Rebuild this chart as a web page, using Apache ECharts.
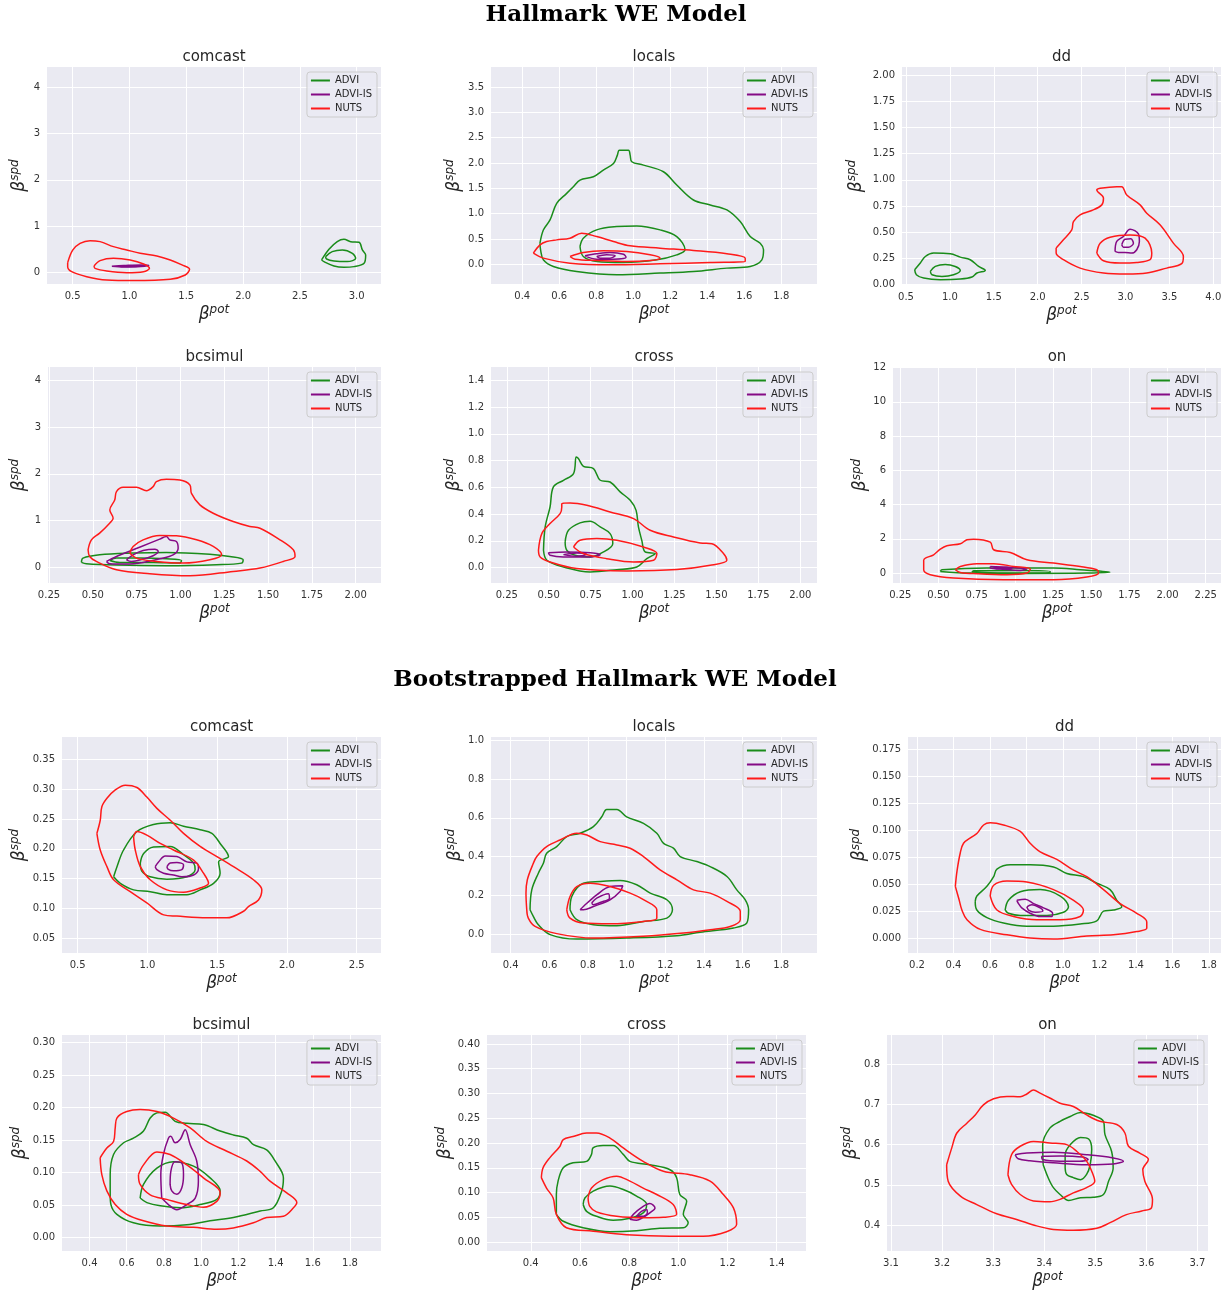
<!DOCTYPE html>
<html><head><meta charset="utf-8">
<script src="https://cdn.jsdelivr.net/npm/echarts@6/dist/echarts.min.js"></script>
<style>html,body{margin:0;padding:0;background:#fff}#c{width:1232px;height:1293px}</style>
</head><body><div id="c"></div>
<script>
const seriesNames = ['ADVI', 'ADVI-IS', 'NUTS'];
const seriesColors = ['#1a8c1a', '#850a85', '#ff1a1a'];
const sectionTitles = ['Hallmark WE Model', 'Bootstrapped Hallmark WE Model'];
const panelTitles = ['comcast', 'locals', 'dd', 'bcsimul', 'cross', 'on', 'comcast', 'locals', 'dd', 'bcsimul', 'cross', 'on'];

// tick labels
const xTicks1 = ['0.5', '1.0', '1.5', '2.0', '2.5', '3.0'];
const yTicks1 = ['0', '1', '2', '3', '4'];
const xTicks2 = ['0.4', '0.6', '0.8', '1.0', '1.2', '1.4', '1.6', '1.8'];
const yTicks2 = ['0.0', '0.5', '1.0', '1.5', '2.0', '2.5', '3.0', '3.5'];
const xTicks3 = ['0.5', '1.0', '1.5', '2.0', '2.5', '3.0', '3.5', '4.0'];
const yTicks3 = ['0.00', '0.25', '0.50', '0.75', '1.00', '1.25', '1.50', '1.75', '2.00'];
const xTicks4 = ['0.25', '0.50', '0.75', '1.00', '1.25', '1.50', '1.75', '2.00'];
const yTicks4 = ['0', '1', '2', '3', '4'];
const xTicks5 = ['0.25', '0.50', '0.75', '1.00', '1.25', '1.50', '1.75', '2.00'];
const yTicks5 = ['0.0', '0.2', '0.4', '0.6', '0.8', '1.0', '1.2', '1.4'];
const xTicks6 = ['0.25', '0.50', '0.75', '1.00', '1.25', '1.50', '1.75', '2.00', '2.25'];
const yTicks6 = ['0', '2', '4', '6', '8', '10', '12'];
const xTicks7 = ['0.5', '1.0', '1.5', '2.0', '2.5'];
const yTicks7 = ['0.05', '0.10', '0.15', '0.20', '0.25', '0.30', '0.35'];
const xTicks8 = ['0.4', '0.6', '0.8', '1.0', '1.2', '1.4', '1.6', '1.8'];
const yTicks8 = ['0.0', '0.2', '0.4', '0.6', '0.8', '1.0'];
const xTicks9 = ['0.2', '0.4', '0.6', '0.8', '1.0', '1.2', '1.4', '1.6', '1.8'];
const yTicks9 = ['0.000', '0.025', '0.050', '0.075', '0.100', '0.125', '0.150', '0.175'];
const xTicks10 = ['0.4', '0.6', '0.8', '1.0', '1.2', '1.4', '1.6', '1.8'];
const yTicks10 = ['0.00', '0.05', '0.10', '0.15', '0.20', '0.25', '0.30'];
const xTicks11 = ['0.4', '0.6', '0.8', '1.0', '1.2', '1.4'];
const yTicks11 = ['0.00', '0.05', '0.10', '0.15', '0.20', '0.25', '0.30', '0.35', '0.40'];
const xTicks12 = ['3.1', '3.2', '3.3', '3.4', '3.5', '3.6', '3.7'];
const yTicks12 = ['0.4', '0.5', '0.6', '0.7', '0.8'];

// contour lines (outer level, inner level) for each panel and method
const p1ADVI = [
  [[2.691,0.267],[2.756,0.497],[2.829,0.663],[2.888,0.714],[2.947,0.663],[3.021,0.649],[3.05,0.483],[3.079,0.375],[3.065,0.195],[2.976,0.123],[2.888,0.108],[2.8,0.137],[2.712,0.231]],
  [[2.726,0.339],[2.785,0.447],[2.874,0.483],[2.962,0.411],[2.991,0.303],[2.918,0.231],[2.8,0.245],[2.735,0.288]]
];
const p1ADVIIS = [
  [[0.845,0.13],[0.95,0.145],[1.1,0.16],[1.17,0.155],[1.1,0.125],[0.95,0.115]],
  [[0.92,0.133],[1.05,0.142],[1.1,0.14],[1.05,0.128],[0.92,0.126]]
];
const p1NUTS = [
  [[0.456,0.209],[0.5,0.48],[0.565,0.627],[0.653,0.685],[0.741,0.663],[0.859,0.555],[0.976,0.483],[1.094,0.411],[1.241,0.353],[1.359,0.267],[1.462,0.159],[1.529,0.065],[1.491,-0.058],[1.359,-0.151],[1.035,-0.18],[0.8,-0.166],[0.624,-0.094],[0.491,0.014],[0.456,0.122]],
  [[0.688,0.137],[0.741,0.252],[0.859,0.303],[1.006,0.267],[1.124,0.18],[1.176,0.086],[1.124,0.014],[0.976,-0.007],[0.8,0.029],[0.697,0.086]]
];

const p2ADVI = [
  [[0.4956,0.419],[0.514,0.68],[0.55,0.878],[0.586,1.206],[0.64,1.402],[0.676,1.533],[0.712,1.664],[0.784,1.73],[0.838,1.861],[0.893,1.992],[0.914,2.156],[0.925,2.254],[0.974,2.254],[0.983,2.156],[0.992,2.025],[1.055,1.959],[1.163,1.828],[1.235,1.566],[1.325,1.271],[1.416,1.173],[1.506,1.075],[1.578,0.845],[1.632,0.55],[1.686,0.419],[1.704,0.288],[1.695,0.092],[1.632,-0.039],[1.506,-0.072],[1.325,-0.138],[1.145,-0.17],[0.911,-0.203],[0.694,-0.138],[0.568,-0.039],[0.514,0.092],[0.499,0.288]],
  [[0.712,0.354],[0.73,0.518],[0.802,0.682],[0.911,0.747],[1.019,0.76],[1.145,0.682],[1.235,0.55],[1.28,0.288],[1.235,0.19],[1.127,0.092],[0.947,0.039],[0.802,0.059],[0.73,0.157]]
];
const p2ADVIIS = [
  [[0.739,0.17],[0.802,0.21],[0.874,0.236],[0.947,0.203],[0.961,0.144],[0.893,0.105],[0.802,0.105]],
  [[0.802,0.157],[0.856,0.19],[0.902,0.17],[0.874,0.125],[0.82,0.125]]
];
const p2NUTS = [
  [[0.46,0.223],[0.496,0.387],[0.532,0.452],[0.586,0.485],[0.658,0.518],[0.721,0.616],[0.802,0.55],[0.893,0.452],[0.983,0.367],[1.145,0.321],[1.325,0.275],[1.506,0.21],[1.605,0.125],[1.605,0.059],[1.416,0.039],[1.145,0.013],[0.874,-0.007],[0.658,0.026],[0.514,0.125]],
  [[0.658,0.157],[0.73,0.236],[0.838,0.269],[0.965,0.256],[1.091,0.19],[1.145,0.125],[1.091,0.079],[0.965,0.059],[0.802,0.079],[0.685,0.105]]
];

const p3ADVI = [
  [[0.599,0.143],[0.663,0.206],[0.72,0.269],[0.815,0.301],[1.004,0.295],[1.118,0.263],[1.232,0.238],[1.327,0.174],[1.403,0.136],[1.308,0.111],[1.251,0.073],[1.118,0.054],[0.891,0.048],[0.701,0.063],[0.618,0.095]],
  [[0.777,0.127],[0.834,0.174],[0.947,0.193],[1.061,0.174],[1.118,0.136],[1.042,0.095],[0.91,0.079],[0.796,0.095]]
];
const p3ADVIIS = [
  [[2.881,0.317],[2.9,0.412],[2.976,0.46],[3.052,0.529],[3.147,0.485],[3.158,0.412],[3.128,0.333],[3.071,0.301],[2.995,0.307],[2.919,0.307]],
  [[2.957,0.38],[2.995,0.434],[3.06,0.437],[3.09,0.396],[3.033,0.358],[2.976,0.358]]
];
const p3NUTS = [
  [[2.21,0.349],[2.293,0.428],[2.388,0.523],[2.407,0.602],[2.483,0.666],[2.616,0.707],[2.73,0.761],[2.749,0.824],[2.673,0.903],[2.711,0.919],[2.9,0.935],[2.957,0.935],[3.014,0.856],[3.166,0.761],[3.242,0.681],[3.393,0.571],[3.545,0.396],[3.659,0.269],[3.64,0.2],[3.469,0.158],[3.242,0.111],[3.014,0.101],[2.749,0.111],[2.483,0.158],[2.293,0.238],[2.21,0.301]],
  [[2.673,0.301],[2.711,0.396],[2.825,0.453],[3.052,0.475],[3.223,0.444],[3.299,0.301],[3.28,0.238],[3.128,0.212],[2.938,0.206],[2.749,0.228]]
];

const p4ADVI = [
  [[0.435,0.107],[0.444,0.199],[0.539,0.27],[0.73,0.306],[0.92,0.32],[1.168,0.284],[1.282,0.234],[1.358,0.163],[1.349,0.092],[1.206,0.057],[0.92,0.036],[0.635,0.05],[0.463,0.078]],
  [[0.597,0.149],[0.635,0.199],[0.768,0.199],[0.92,0.185],[1.006,0.149],[0.997,0.092],[0.844,0.107],[0.654,0.107]]
];
const p4ADVIIS = [
  [[0.578,0.128],[0.635,0.234],[0.73,0.377],[0.825,0.519],[0.882,0.604],[0.92,0.661],[0.939,0.59],[0.977,0.554],[0.987,0.412],[0.958,0.27],[0.882,0.185],[0.787,0.107],[0.692,0.071],[0.597,0.078]],
  [[0.692,0.163],[0.73,0.27],[0.787,0.362],[0.854,0.391],[0.873,0.341],[0.844,0.249],[0.787,0.178],[0.72,0.128]]
];
const p4NUTS = [
  [[0.473,0.377],[0.492,0.59],[0.539,0.732],[0.596,0.945],[0.616,1.052],[0.597,1.229],[0.625,1.442],[0.635,1.62],[0.673,1.712],[0.749,1.712],[0.806,1.641],[0.844,1.726],[0.863,1.833],[0.92,1.883],[0.997,1.869],[1.054,1.762],[1.063,1.584],[1.111,1.336],[1.187,1.158],[1.301,0.98],[1.396,0.874],[1.454,0.838],[1.568,0.59],[1.644,0.377],[1.654,0.234],[1.587,0.128],[1.454,-0.014],[1.301,-0.085],[1.054,-0.178],[0.825,-0.135],[0.635,-0.05],[0.52,0.128],[0.482,0.234]],
  [[0.711,0.306],[0.73,0.448],[0.787,0.59],[0.882,0.682],[0.977,0.675],[1.092,0.59],[1.187,0.448],[1.235,0.27],[1.168,0.163],[1.016,0.092],[0.863,0.128],[0.749,0.199]]
];

const p5ADVI = [
  [[0.469,0.13],[0.479,0.304],[0.508,0.453],[0.528,0.603],[0.588,0.653],[0.648,0.703],[0.664,0.827],[0.677,0.815],[0.707,0.757],[0.767,0.74],[0.807,0.653],[0.866,0.64],[0.926,0.566],[0.986,0.503],[1.021,0.428],[1.035,0.304],[1.055,0.204],[1.075,0.117],[1.135,0.105],[1.085,0.067],[1.025,0.005],[0.906,-0.015],[0.747,-0.032],[0.588,0.005],[0.489,0.055]],
  [[0.598,0.192],[0.618,0.279],[0.687,0.334],[0.747,0.346],[0.807,0.304],[0.866,0.254],[0.882,0.179],[0.827,0.117],[0.747,0.08],[0.658,0.092],[0.608,0.13]]
];
const p5ADVIIS = [
  [[0.498,0.112],[0.608,0.117],[0.747,0.112],[0.807,0.097],[0.747,0.08],[0.588,0.08],[0.508,0.092]],
  [[0.588,0.097],[0.668,0.11],[0.727,0.1],[0.668,0.085]]
];
const p5NUTS = [
  [[0.439,0.13],[0.459,0.254],[0.508,0.329],[0.568,0.404],[0.578,0.453],[0.578,0.478],[0.628,0.483],[0.727,0.466],[0.866,0.416],[1.006,0.366],[1.105,0.279],[1.244,0.229],[1.403,0.184],[1.473,0.179],[1.542,0.105],[1.562,0.055],[1.463,0.017],[1.264,-0.015],[0.966,-0.025],[0.667,-0.007],[0.508,0.042],[0.449,0.08]],
  [[0.648,0.154],[0.687,0.204],[0.787,0.217],[0.906,0.204],[1.065,0.154],[1.145,0.105],[1.125,0.055],[1.006,0.042],[0.846,0.067],[0.707,0.105]]
];

const p6ADVI = [
  [[0.512,0.097],[0.523,0.194],[0.817,0.291],[1.253,0.291],[1.428,0.194],[1.624,0.058],[1.471,0.0],[1.035,-0.019],[0.708,0.0]],
  [[0.719,0.058],[0.73,0.136],[1.035,0.155],[1.231,0.097],[1.231,0.019],[0.926,0.0]]
];
const p6ADVIIS = [
  [[0.839,0.388],[0.948,0.35],[1.079,0.233],[1.035,0.155],[0.904,0.233],[0.839,0.29]],
  [[0.87,0.33],[0.98,0.28],[0.95,0.24],[0.86,0.29]]
];
const p6NUTS = [
  [[0.403,0.777],[0.414,0.874],[0.468,1.068],[0.512,1.398],[0.555,1.592],[0.643,1.709],[0.686,1.942],[0.73,1.981],[0.839,1.806],[0.861,1.359],[0.97,1.204],[1.079,0.777],[1.253,0.583],[1.428,0.388],[1.537,0.194],[1.548,0.0],[1.471,-0.233],[1.253,-0.388],[0.926,-0.388],[0.599,-0.291],[0.446,-0.097],[0.403,0.194]],
  [[0.61,0.194],[0.643,0.388],[0.752,0.544],[0.861,0.544],[0.992,0.388],[1.101,0.233],[1.079,0.0],[0.948,-0.097],[0.752,-0.039],[0.643,0.039]]
];

const p7ADVI = [
  [[0.758,0.153],[0.782,0.17],[0.829,0.198],[0.925,0.229],[1.044,0.241],[1.163,0.244],[1.259,0.238],[1.378,0.232],[1.462,0.226],[1.521,0.209],[1.581,0.187],[1.51,0.178],[1.521,0.159],[1.474,0.142],[1.378,0.131],[1.283,0.123],[1.14,0.123],[1.02,0.128],[0.901,0.131],[0.806,0.142]],
  [[0.949,0.176],[0.973,0.192],[1.044,0.203],[1.163,0.204],[1.259,0.19],[1.331,0.176],[1.342,0.165],[1.283,0.153],[1.14,0.149],[1.02,0.153],[0.961,0.162]]
];
const p7ADVIIS = [
  [[1.056,0.17],[1.08,0.178],[1.128,0.188],[1.211,0.187],[1.283,0.178],[1.354,0.176],[1.366,0.167],[1.331,0.156],[1.247,0.153],[1.187,0.156],[1.116,0.159],[1.068,0.165]],
  [[1.14,0.17],[1.163,0.176],[1.211,0.177],[1.259,0.173],[1.247,0.165],[1.187,0.163],[1.147,0.166]]
];
const p7NUTS = [
  [[0.638,0.226],[0.662,0.248],[0.674,0.271],[0.71,0.285],[0.77,0.299],[0.841,0.307],[0.925,0.303],[0.996,0.287],[1.068,0.268],[1.164,0.248],[1.259,0.226],[1.378,0.204],[1.498,0.187],[1.617,0.17],[1.76,0.148],[1.82,0.131],[1.796,0.114],[1.724,0.103],[1.689,0.095],[1.569,0.084],[1.426,0.084],[1.211,0.087],[1.117,0.089],[0.996,0.109],[0.877,0.128],[0.758,0.148],[0.71,0.17],[0.662,0.198]],
  [[0.901,0.22],[0.925,0.229],[0.996,0.223],[1.092,0.209],[1.187,0.198],[1.331,0.181],[1.402,0.159],[1.438,0.142],[1.378,0.134],[1.259,0.127],[1.14,0.131],[1.02,0.148],[0.949,0.17],[0.913,0.198]]
];

const p8ADVI = [
  [[0.5,0.125],[0.509,0.228],[0.543,0.314],[0.569,0.365],[0.586,0.417],[0.638,0.451],[0.69,0.503],[0.759,0.52],[0.828,0.554],[0.871,0.605],[0.897,0.643],[0.949,0.643],[1.0,0.605],[1.087,0.571],[1.156,0.52],[1.191,0.468],[1.242,0.443],[1.277,0.4],[1.363,0.374],[1.432,0.348],[1.519,0.297],[1.57,0.228],[1.613,0.177],[1.631,0.125],[1.622,0.057],[1.553,0.031],[1.38,0.009],[1.26,-0.009],[1.0,-0.021],[0.742,-0.026],[0.604,-0.003],[0.543,0.048],[0.517,0.091]],
  [[0.707,0.125],[0.716,0.194],[0.776,0.262],[0.863,0.271],[0.966,0.276],[1.052,0.254],[1.122,0.211],[1.208,0.177],[1.237,0.125],[1.208,0.082],[1.087,0.065],[0.949,0.043],[0.828,0.048],[0.742,0.074]]
];
const p8ADVIIS = [
  [[0.759,0.125],[0.776,0.142],[0.845,0.202],[0.914,0.245],[0.98,0.249],[0.966,0.22],[0.914,0.177],[0.828,0.142],[0.776,0.125]],
  [[0.819,0.16],[0.845,0.185],[0.905,0.208],[0.911,0.185],[0.863,0.163],[0.828,0.151]]
];
const p8NUTS = [
  [[0.483,0.125],[0.479,0.211],[0.486,0.28],[0.517,0.365],[0.535,0.4],[0.586,0.451],[0.655,0.485],[0.742,0.52],[0.794,0.511],[0.863,0.477],[0.949,0.46],[1.018,0.443],[1.087,0.4],[1.173,0.331],[1.26,0.28],[1.346,0.228],[1.432,0.211],[1.519,0.168],[1.588,0.117],[1.588,0.074],[1.536,0.039],[1.432,0.022],[1.294,0.005],[1.087,-0.012],[0.828,-0.021],[0.638,0.002],[0.526,0.039],[0.491,0.082]],
  [[0.69,0.125],[0.707,0.194],[0.742,0.245],[0.811,0.262],[0.914,0.245],[1.018,0.211],[1.087,0.177],[1.156,0.125],[1.156,0.082],[1.087,0.065],[0.914,0.053],[0.776,0.057],[0.707,0.082]]
];

const p9ADVI = [
  [[0.519,0.034],[0.528,0.039],[0.583,0.048],[0.62,0.057],[0.638,0.064],[0.711,0.068],[0.82,0.068],[0.948,0.066],[1.021,0.06],[1.112,0.057],[1.185,0.051],[1.258,0.045],[1.295,0.035],[1.322,0.029],[1.276,0.026],[1.222,0.025],[1.185,0.016],[1.094,0.013],[0.948,0.011],[0.802,0.011],[0.674,0.014],[0.583,0.019],[0.528,0.026]],
  [[0.683,0.026],[0.701,0.035],[0.766,0.043],[0.875,0.045],[0.985,0.039],[1.03,0.029],[1.003,0.024],[0.912,0.021],[0.766,0.021],[0.701,0.023]]
];
const p9ADVIIS = [
  [[0.747,0.035],[0.793,0.036],[0.839,0.032],[0.893,0.028],[0.943,0.023],[0.939,0.02],[0.875,0.02],[0.82,0.023],[0.774,0.028],[0.756,0.032]],
  [[0.802,0.029],[0.829,0.031],[0.875,0.028],[0.89,0.025],[0.848,0.024],[0.811,0.026]]
];
const p9NUTS = [
  [[0.41,0.048],[0.419,0.062],[0.437,0.079],[0.455,0.088],[0.501,0.094],[0.528,0.097],[0.565,0.105],[0.601,0.107],[0.674,0.105],[0.766,0.099],[0.82,0.088],[0.875,0.08],[0.966,0.073],[1.058,0.063],[1.13,0.057],[1.222,0.045],[1.313,0.032],[1.404,0.023],[1.459,0.015],[1.459,0.009],[1.404,0.006],[1.276,0.003],[1.13,0.002],[0.948,-0.001],[0.82,0.0],[0.693,0.003],[0.547,0.008],[0.474,0.017],[0.446,0.026],[0.43,0.036]],
  [[0.601,0.039],[0.62,0.049],[0.693,0.053],[0.802,0.052],[0.948,0.045],[1.058,0.035],[1.112,0.026],[1.094,0.02],[0.985,0.017],[0.857,0.017],[0.729,0.02],[0.638,0.026]]
];

const p10ADVI = [
  [[0.511,0.066],[0.511,0.097],[0.529,0.128],[0.583,0.146],[0.636,0.153],[0.69,0.164],[0.726,0.184],[0.762,0.192],[0.806,0.193],[0.86,0.179],[0.923,0.176],[1.012,0.174],[1.102,0.164],[1.173,0.158],[1.245,0.153],[1.281,0.143],[1.352,0.135],[1.397,0.118],[1.442,0.092],[1.433,0.072],[1.388,0.046],[1.317,0.041],[1.173,0.031],[1.048,0.026],[0.923,0.02],[0.78,0.018],[0.636,0.023],[0.547,0.036],[0.515,0.051]],
  [[0.672,0.061],[0.69,0.082],[0.762,0.107],[0.851,0.117],[0.959,0.11],[1.048,0.092],[1.102,0.072],[1.084,0.059],[0.994,0.051],[0.887,0.046],[0.78,0.049],[0.708,0.054]]
];
const p10ADVIIS = [
  [[0.788,0.061],[0.783,0.097],[0.797,0.128],[0.824,0.153],[0.837,0.156],[0.86,0.146],[0.887,0.151],[0.914,0.166],[0.941,0.143],[0.976,0.118],[0.985,0.087],[0.968,0.061],[0.923,0.051],[0.869,0.043],[0.824,0.051]],
  [[0.833,0.082],[0.837,0.102],[0.86,0.117],[0.896,0.115],[0.905,0.097],[0.896,0.077],[0.869,0.067],[0.842,0.072]]
];
const p10NUTS = [
  [[0.457,0.123],[0.493,0.138],[0.529,0.148],[0.538,0.169],[0.547,0.184],[0.6,0.194],[0.672,0.197],[0.762,0.194],[0.851,0.184],[0.941,0.169],[1.03,0.148],[1.138,0.133],[1.245,0.118],[1.317,0.102],[1.37,0.087],[1.46,0.069],[1.514,0.054],[1.496,0.046],[1.442,0.033],[1.352,0.031],[1.281,0.023],[1.173,0.015],[1.084,0.013],[0.959,0.016],[0.815,0.018],[0.69,0.026],[0.6,0.036],[0.538,0.051],[0.493,0.072],[0.466,0.097]],
  [[0.663,0.097],[0.69,0.112],[0.762,0.132],[0.833,0.128],[0.923,0.112],[1.012,0.092],[1.102,0.069],[1.084,0.056],[1.012,0.047],[0.923,0.051],[0.815,0.059],[0.726,0.066],[0.672,0.082]]
];

const p11ADVI = [
  [[0.504,0.056],[0.504,0.096],[0.511,0.123],[0.532,0.15],[0.572,0.16],[0.627,0.163],[0.647,0.177],[0.653,0.19],[0.694,0.195],[0.735,0.195],[0.776,0.177],[0.803,0.163],[0.884,0.156],[0.966,0.146],[0.993,0.13],[1.006,0.096],[1.034,0.083],[1.02,0.056],[1.04,0.039],[1.02,0.029],[0.925,0.028],[0.83,0.023],[0.722,0.021],[0.613,0.029],[0.532,0.042]],
  [[0.613,0.076],[0.62,0.089],[0.654,0.103],[0.722,0.113],[0.776,0.106],[0.83,0.093],[0.871,0.076],[0.857,0.059],[0.803,0.048],[0.735,0.044],[0.667,0.052],[0.627,0.062]]
];
const p11ADVIIS = [
  [[0.803,0.046],[0.817,0.056],[0.857,0.072],[0.884,0.078],[0.905,0.069],[0.884,0.059],[0.857,0.05],[0.83,0.044]],
  [[0.83,0.052],[0.85,0.062],[0.871,0.066],[0.874,0.059],[0.857,0.052]]
];
const p11NUTS = [
  [[0.443,0.13],[0.45,0.15],[0.477,0.17],[0.518,0.193],[0.532,0.207],[0.572,0.213],[0.627,0.22],[0.667,0.22],[0.722,0.21],[0.776,0.19],[0.857,0.163],[0.939,0.143],[1.047,0.136],[1.129,0.123],[1.183,0.096],[1.224,0.069],[1.237,0.036],[1.196,0.021],[1.101,0.012],[0.966,0.012],[0.789,0.015],[0.654,0.022],[0.545,0.029],[0.504,0.056],[0.491,0.089],[0.464,0.109]],
  [[0.633,0.089],[0.647,0.109],[0.694,0.126],[0.749,0.133],[0.803,0.123],[0.857,0.109],[0.912,0.096],[0.979,0.076],[0.993,0.056],[0.939,0.05],[0.857,0.049],[0.749,0.052],[0.667,0.061],[0.64,0.072]]
];

const p12ADVI = [
  [[3.398,0.55],[3.397,0.6],[3.411,0.641],[3.431,0.658],[3.451,0.67],[3.471,0.68],[3.496,0.673],[3.516,0.658],[3.519,0.625],[3.532,0.583],[3.535,0.542],[3.526,0.509],[3.516,0.476],[3.496,0.469],[3.471,0.468],[3.448,0.461],[3.431,0.476],[3.418,0.493],[3.408,0.517]],
  [[3.441,0.542],[3.441,0.575],[3.451,0.6],[3.471,0.618],[3.487,0.614],[3.493,0.588],[3.49,0.55],[3.483,0.526],[3.471,0.513],[3.457,0.518],[3.444,0.526]]
];
const p12ADVIIS = [
  [[3.343,0.575],[3.366,0.579],[3.418,0.581],[3.483,0.575],[3.535,0.567],[3.555,0.559],[3.535,0.552],[3.483,0.55],[3.418,0.555],[3.372,0.56],[3.349,0.565]],
  [[3.395,0.571],[3.431,0.572],[3.476,0.569],[3.486,0.563],[3.47,0.559],[3.431,0.559],[3.397,0.563]]
];
const p12NUTS = [
  [[3.209,0.55],[3.212,0.509],[3.236,0.472],[3.268,0.451],[3.307,0.428],[3.346,0.414],[3.385,0.398],[3.418,0.389],[3.457,0.387],[3.503,0.392],[3.529,0.406],[3.561,0.426],[3.591,0.435],[3.61,0.443],[3.612,0.464],[3.597,0.509],[3.593,0.538],[3.604,0.563],[3.587,0.579],[3.565,0.596],[3.558,0.629],[3.542,0.65],[3.509,0.658],[3.483,0.674],[3.457,0.695],[3.431,0.703],[3.411,0.716],[3.392,0.728],[3.379,0.736],[3.366,0.726],[3.353,0.719],[3.327,0.72],[3.301,0.714],[3.281,0.699],[3.265,0.674],[3.249,0.654],[3.229,0.629],[3.219,0.592]],
  [[3.329,0.525],[3.336,0.575],[3.353,0.596],[3.379,0.608],[3.411,0.604],[3.444,0.6],[3.464,0.583],[3.483,0.559],[3.493,0.534],[3.499,0.509],[3.483,0.493],[3.457,0.48],[3.431,0.464],[3.411,0.458],[3.379,0.46],[3.353,0.476],[3.336,0.501]]
];

// panel layout (pixels) and axis extents
const panels = [
  {box:[47,67,334,217],  x:[0.274,3.214],  y:[-0.253,4.44],   xt:xTicks1,  yt:yTicks1,  gap:17, d:[p1ADVI,p1ADVIIS,p1NUTS]},
  {box:[491,67,326,217], x:[0.231,1.993],  y:[-0.385,3.893],  xt:xTicks2,  yt:yTicks2,  gap:26, d:[p2ADVI,p2ADVIIS,p2NUTS]},
  {box:[902,67,319,218], x:[0.4545,4.0875],y:[-0.003,2.076],  xt:xTicks3,  yt:yTicks3,  gap:35, d:[p3ADVI,p3ADVIIS,p3NUTS]},
  {box:[48,367,333,216], x:[0.2443,2.1445],y:[-0.333,4.284],  xt:xTicks4,  yt:yTicks4,  gap:18, d:[p4ADVI,p4ADVIIS,p4NUTS]},
  {box:[491,367,326,216],x:[0.156,2.0996], y:[-0.115,1.4995], xt:xTicks5,  yt:yTicks5,  gap:26, d:[p5ADVI,p5ADVIIS,p5NUTS]},
  {box:[893,367,328,216],x:[0.202,2.35],   y:[-0.58,12.03],   xt:xTicks6,  yt:yTicks6,  gap:21, d:[p6ADVI,p6ADVIIS,p6NUTS]},
  {box:[62,737,319,216], x:[0.388,2.674],  y:[0.0249,0.3879], xt:xTicks7,  yt:yTicks7,  gap:32, d:[p7ADVI,p7ADVIIS,p7NUTS]},
  {box:[491,737,326,216],x:[0.298,1.985],  y:[-0.098,1.017],  xt:xTicks8,  yt:yTicks8,  gap:24, d:[p8ADVI,p8ADVIIS,p8NUTS]},
  {box:[908,737,313,216],x:[0.1507,1.8657],y:[-0.0139,0.1867],xt:xTicks9,  yt:yTicks9,  gap:36, d:[p9ADVI,p9ADVIIS,p9NUTS]},
  {box:[62,1035,319,216],x:[0.252,1.9665], y:[-0.0204,0.3117],xt:xTicks10, yt:yTicks10, gap:30, d:[p10ADVI,p10ADVIIS,p10NUTS]},
  {box:[487,1035,319,216],x:[0.222,1.519], y:[-0.018,0.418],  xt:xTicks11, yt:yTicks11, gap:30, d:[p11ADVI,p11ADVIIS,p11NUTS]},
  {box:[887,1035,321,216],x:[3.0922,3.7207],y:[0.3355,0.8727],xt:xTicks12, yt:yTicks12, gap:25, d:[p12ADVI,p12ADVIIS,p12NUTS]}
];

const FONT = 'DejaVu Sans';
const TXT = '#262626';
const nameRich = {
  b: {fontFamily: FONT, fontStyle: 'italic', fontSize: 17, color: TXT},
  s: {fontFamily: FONT, fontStyle: 'italic', fontSize: 12, color: TXT, padding: [0, 0, 9, 0]}
};
function labelFor(ticks) {
  return function (v) {
    for (const t of ticks) if (Math.abs(Number(t) - v) < 1e-9) return t;
    return '';
  };
}

const grid = [], xAxis = [], yAxis = [], series = [], legend = [], title = [];
title.push({text: sectionTitles[0], left: 616, top: 15, textAlign: 'center', textVerticalAlign: 'middle', padding: 0,
  textStyle: {fontFamily: 'DejaVu Serif', fontWeight: 'bold', fontSize: 23, color: '#000'}});
title.push({text: sectionTitles[1], left: 615, top: 680, textAlign: 'center', textVerticalAlign: 'middle', padding: 0,
  textStyle: {fontFamily: 'DejaVu Serif', fontWeight: 'bold', fontSize: 23, color: '#000'}});

panels.forEach((p, i) => {
  const [l, t, w, h] = p.box;
  grid.push({left: l, top: t, width: w, height: h, show: true, backgroundColor: '#EAEAF2', borderWidth: 0, containLabel: false});
  const xv = p.xt.map(Number), yv = p.yt.map(Number);
  xAxis.push({
    gridIndex: i, type: 'value', min: p.x[0], max: p.x[1],
    axisLine: {show: false}, axisTick: {show: false, customValues: xv},
    axisLabel: {customValues: xv, formatter: labelFor(p.xt), fontFamily: FONT, fontSize: 10, color: '#333', margin: 7, showMinLabel: true, showMaxLabel: true},
    splitLine: {show: true, lineStyle: {color: '#ffffff', width: 1}},
    name: '{b|β}{s|pot}', nameLocation: 'middle', nameGap: 20, nameTextStyle: {rich: nameRich}
  });
  yAxis.push({
    gridIndex: i, type: 'value', min: p.y[0], max: p.y[1],
    axisLine: {show: false}, axisTick: {show: false, customValues: yv},
    axisLabel: {customValues: yv, formatter: labelFor(p.yt), fontFamily: FONT, fontSize: 10, color: '#333', margin: 7, showMinLabel: true, showMaxLabel: true},
    splitLine: {show: true, lineStyle: {color: '#ffffff', width: 1}},
    name: '{b|β}{s|spd}', nameLocation: 'middle', nameGap: p.gap, nameTextStyle: {rich: nameRich}
  });
  title.push({text: panelTitles[i], left: l + w / 2, top: t - 10, textAlign: 'center', textVerticalAlign: 'middle', padding: 0,
    textStyle: {fontFamily: FONT, fontWeight: 'normal', fontSize: 15, color: TXT}});
  legend.push({
    orient: 'vertical', right: 1232 - (l + w) + 4, top: t + 5,
    data: seriesNames.slice(), icon: 'rect', itemWidth: 19, itemHeight: 2, itemGap: 3,
    padding: [3, 5, 3, 4], backgroundColor: 'rgba(234,234,242,0.8)', borderColor: '#cccccc', borderWidth: 1, borderRadius: 3,
    textStyle: {fontFamily: FONT, fontSize: 10, color: TXT, lineHeight: 11},
    selectedMode: false
  });
  p.d.forEach((levels, k) => {
    levels.forEach(pts => {
      series.push({
        type: 'line', name: seriesNames[k], xAxisIndex: i, yAxisIndex: i,
        data: pts.concat([pts[0]]), smooth: 0.35, symbol: 'none', showSymbol: false,
        lineStyle: {color: seriesColors[k], width: 1.5}, itemStyle: {color: seriesColors[k]},
        silent: true, z: 2 + k
      });
    });
  });
});

const chart = echarts.init(document.getElementById('c'), null, {renderer: 'canvas'});
chart.setOption({animation: false, backgroundColor: '#ffffff', title, grid, xAxis, yAxis, legend, series});
</script>
</body></html>
